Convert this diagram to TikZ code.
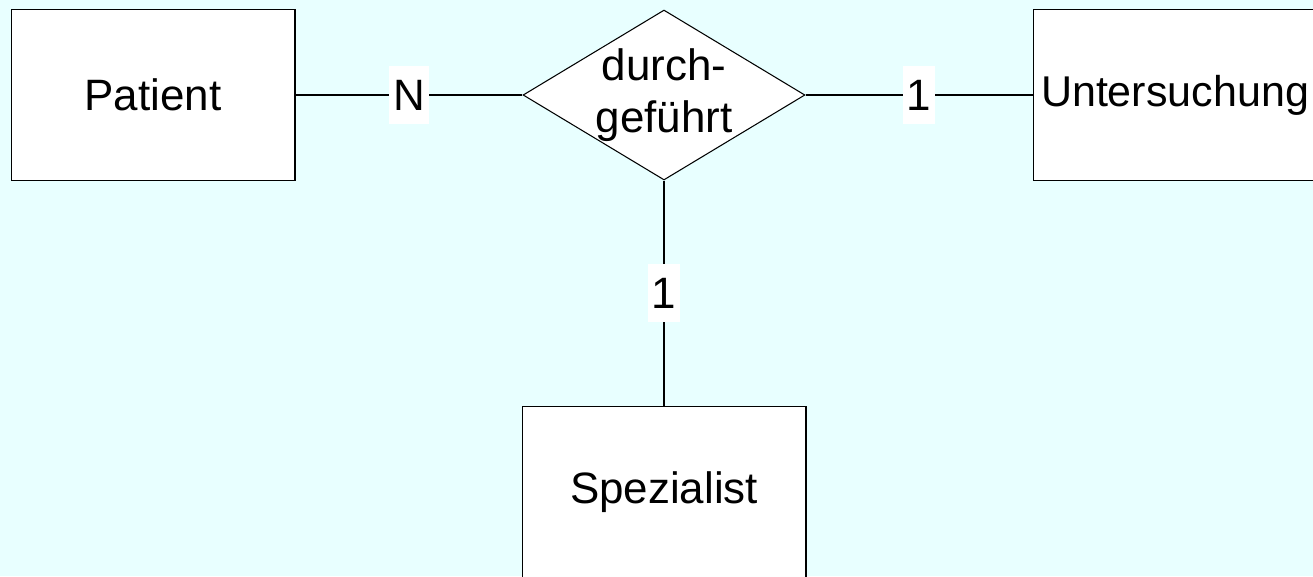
\documentclass[tikz,border=0pt]{standalone}
\usepackage{fontspec}
\setmainfont{Liberation Sans}
\usetikzlibrary{shapes.geometric}
\definecolor{bgcyan}{RGB}{232,255,255}
\begin{document}
\begin{tikzpicture}[x=0.02cm,y=-0.02cm,
    entity/.style={draw,fill=white,line width=0.6pt,minimum width=5.68cm,
      minimum height=3.42cm,inner sep=0pt,font=\fontsize{25}{30}\selectfont},
    relation/.style={draw,fill=white,diamond,line width=0.6pt,
      minimum width=5.64cm,minimum height=3.4cm,inner sep=0pt},
    card/.style={fill=white,inner xsep=0.08cm,inner ysep=0pt,
      text height=17.9pt,text depth=0pt,minimum height=1.16cm,
      font=\fontsize{25}{30}\selectfont}]
  \fill[bgcyan] (0,0) rectangle (1313,576);
  \useasboundingbox (0,0) rectangle (1313,576);
  \draw
    (153,95) node[entity] (pat) {Patient}
    (664,95) node[relation] (rel) {}
    (1175,95) node[entity,font=\fontsize{24.5}{29}\selectfont] (unt) {Untersuchung}
    (664,492) node[entity] (spez) {Spezialist};
  \node[align=center,font=\fontsize{25}{29.6}\selectfont] (reltext) at (rel) {durch-\\geführt};
  \begin{scope}[-,line width=0.6pt]
    \draw (pat) -- node[card] (cpat) {N} (rel);
    \draw (rel) -- node[card] (cunt) {1} (unt);
    \draw (rel) -- node[card] (cspez) {1} (spez);
  \end{scope}
\end{tikzpicture}
\end{document}
